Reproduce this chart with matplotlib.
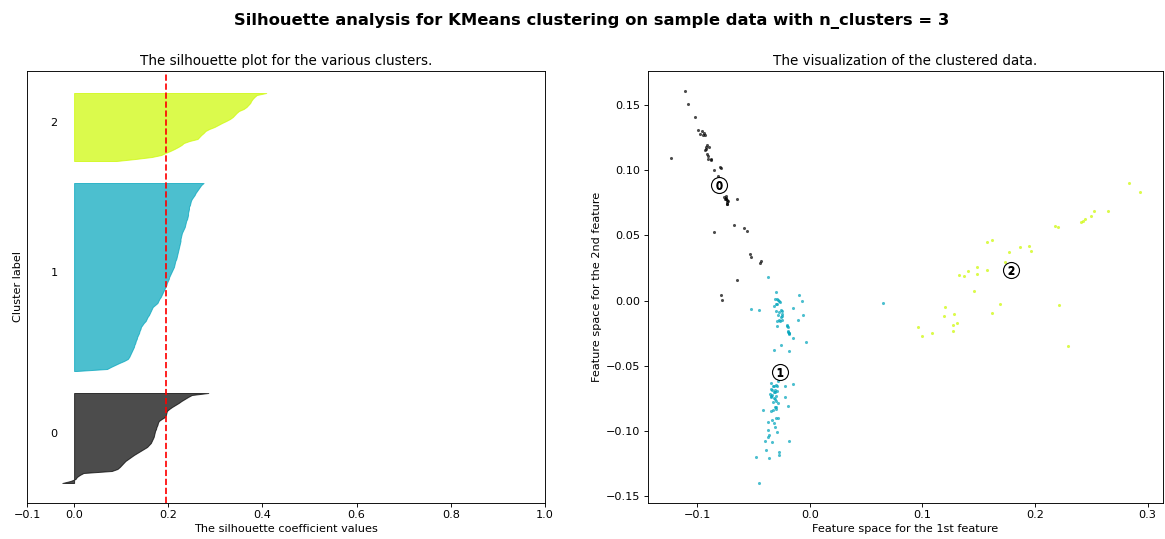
import numpy as np
import matplotlib
matplotlib.use("Agg")
import matplotlib.pyplot as plt
import matplotlib.cm as cm

n_clusters = 3

# silhouette values per cluster (sorted)
sil_0 = [-0.025, -0.008, 0.003, 0.006, 0.012, 0.02, 0.08, 0.092, 0.097, 0.101,
         0.105, 0.109, 0.115, 0.121, 0.127, 0.134, 0.141, 0.148, 0.155, 0.159,
         0.163, 0.165, 0.167, 0.169, 0.170, 0.171, 0.172, 0.174, 0.175, 0.177,
         0.178, 0.180, 0.186, 0.193, 0.195, 0.196, 0.197, 0.202, 0.208, 0.215,
         0.222, 0.228, 0.235, 0.242, 0.250, 0.285]
sil_1 = [0.005, 0.07, 0.078, 0.087, 0.096, 0.106, 0.114, 0.117, 0.119, 0.121,
         0.123, 0.125, 0.127, 0.128, 0.130, 0.131, 0.133, 0.134, 0.136, 0.138,
         0.139, 0.141, 0.142, 0.145, 0.148, 0.152, 0.154, 0.156, 0.159, 0.161,
         0.163, 0.165, 0.167, 0.172, 0.177, 0.179, 0.181, 0.184, 0.186, 0.188,
         0.190, 0.192, 0.194, 0.196, 0.197, 0.199, 0.201, 0.202, 0.204, 0.206,
         0.208, 0.210, 0.212, 0.213, 0.214, 0.215, 0.217, 0.218, 0.219, 0.220,
         0.221, 0.222, 0.223, 0.224, 0.225, 0.226, 0.226, 0.227, 0.228, 0.229,
         0.231, 0.233, 0.235, 0.236, 0.237, 0.238, 0.240, 0.241, 0.242, 0.242,
         0.243, 0.244, 0.244, 0.246, 0.247, 0.248, 0.250, 0.253, 0.256, 0.258,
         0.261, 0.264, 0.267, 0.270, 0.275]
sil_2 = [0.09, 0.13, 0.165, 0.185, 0.194, 0.204, 0.213, 0.221, 0.228, 0.233,
         0.245, 0.262, 0.266, 0.270, 0.275, 0.279, 0.287, 0.298, 0.306, 0.314,
         0.323, 0.331, 0.337, 0.341, 0.345, 0.350, 0.360, 0.366, 0.370, 0.374,
         0.376, 0.379, 0.383, 0.388, 0.408]
silhouette_avg = 0.195

# 2D feature space points per cluster
c0_x = [-0.1109, -0.1077, -0.1020, -0.0988, -0.0973, -0.0938, -0.0932, -0.1228,
        -0.0923, -0.0894, -0.0929, -0.0909, -0.0903, -0.0873, -0.0850, -0.0796,
        -0.0790, -0.0812, -0.0761, -0.0746, -0.0741, -0.0732, -0.0732, -0.0649,
        -0.0673, -0.0584, -0.0555, -0.0852, -0.0531, -0.0522, -0.0445, -0.0431,
        -0.0649, -0.0785, -0.0779, -0.0955, -0.0915, -0.0900, -0.0880, -0.0745,
        -0.0738, -0.0728, -0.0755, -0.0925, -0.0945, -0.0735]
c0_y = [0.1613, 0.1513, 0.1413, 0.1308, 0.1282, 0.1287, 0.1272, 0.1092,
        0.1179, 0.1179, 0.1154, 0.1128, 0.1085, 0.1077, 0.1005, 0.1025,
        0.1018, 0.0954, 0.0795, 0.0800, 0.0782, 0.0756, 0.0738, 0.0779,
        0.0582, 0.0559, 0.0531, 0.0528, 0.0359, 0.0333, 0.0287, 0.0300,
        0.0159, 0.0044, 0.0002, 0.1300, 0.1195, 0.1110, 0.1090, 0.0790,
        0.0770, 0.0765, 0.0780, 0.1165, 0.1275, 0.0745]

c1_x = [-0.0372, -0.0301, -0.0097, -0.0065, -0.0312, -0.0283, -0.0265, -0.0289,
        -0.0321, -0.0522, -0.0454, -0.0150, -0.0298, -0.0259, -0.0056, -0.0283,
        -0.0250, -0.0242, -0.0104, -0.0289, -0.0277, -0.0245, -0.0292, -0.0206,
        -0.0195, -0.0197, -0.0188, -0.0180, -0.0144, -0.0035, -0.0254, -0.0321,
        -0.0188, 0.0655, -0.0290, -0.0275, -0.0270, -0.0255, -0.0262, -0.0190,
        -0.0185, -0.0300, -0.0248, -0.0200,
        -0.0342, -0.0298, -0.0281, -0.0221, -0.0150, -0.0348, -0.0312, -0.0289,
        -0.0354, -0.0334, -0.0215, -0.0342, -0.0319, -0.0295, -0.0325, -0.0419,
        -0.0348, -0.0312, -0.0295, -0.0197, -0.0327, -0.0298, -0.0281, -0.0336,
        -0.0319, -0.0369, -0.0310, -0.0369, -0.0289, -0.0360, -0.0369, -0.0186,
        -0.0398, -0.0334, -0.0274, -0.0272, -0.0389, -0.0475, -0.0360, -0.0449,
        -0.0330, -0.0320, -0.0305, -0.0340, -0.0300, -0.0310, -0.0285, -0.0300,
        -0.0320, -0.0290, -0.0335]
c1_y = [0.0182, 0.0064, 0.0046, 0.0000, 0.0010, 0.0005, -0.0010, -0.0025,
        -0.0041, -0.0067, -0.0072, -0.0056, -0.0077, -0.0072, -0.0108, -0.0113,
        -0.0102, -0.0118, -0.0146, -0.0154, -0.0148, -0.0148, -0.0195, -0.0187,
        -0.0202, -0.0241, -0.0248, -0.0256, -0.0287, -0.0315, -0.0344, -0.0379,
        -0.0387, -0.0021, 0.0015, -0.0005, -0.0090, -0.0125, -0.0160, -0.0235,
        -0.0252, -0.0030, -0.0080, -0.0195,
        -0.0636, -0.0646, -0.0621, -0.0659, -0.0644, -0.0679, -0.0687, -0.0692,
        -0.0718, -0.0725, -0.0738, -0.0744, -0.0748, -0.0769, -0.0782, -0.0841,
        -0.0852, -0.0815, -0.0815, -0.0813, -0.0841, -0.0902, -0.0902, -0.0918,
        -0.0941, -0.0936, -0.0969, -0.0995, -0.1013, -0.1031, -0.1046, -0.1077,
        -0.1082, -0.1085, -0.1167, -0.1185, -0.1148, -0.1200, -0.1213, -0.1405,
        -0.0660, -0.0700, -0.0705, -0.0730, -0.0735, -0.0760, -0.0790, -0.0830,
        -0.0655, -0.0660, -0.0690]

c2_x = [0.2832, 0.2929, 0.2646, 0.2522, 0.2496, 0.2440, 0.2427, 0.2410,
        0.2180, 0.2204, 0.1622, 0.1573, 0.1947, 0.1870, 0.1962, 0.1773,
        0.1735, 0.1489, 0.1401, 0.1573, 0.1489, 0.1325, 0.1369, 0.1458,
        0.1693, 0.2210, 0.1204, 0.1283, 0.1195, 0.1622, 0.1307, 0.1272,
        0.1272, 0.0958, 0.1088, 0.0994, 0.2292]
c2_y = [0.0905, 0.0833, 0.0687, 0.0690, 0.0652, 0.0628, 0.0615, 0.0602,
        0.0575, 0.0562, 0.0467, 0.0446, 0.0421, 0.0410, 0.0382, 0.0375,
        0.0298, 0.0256, 0.0228, 0.0231, 0.0205, 0.0198, 0.0185, 0.0077,
        -0.0023, -0.0036, -0.0046, -0.0100, -0.0118, -0.0098, -0.0172, -0.0190,
        -0.0231, -0.0202, -0.0252, -0.0275, -0.0346]

centers_x = [-0.0805, -0.0265, 0.1788]
centers_y = [0.0885, -0.0546, 0.0231]

sil_values = [sil_0, sil_1, sil_2]
pts_x = [c0_x, c1_x, c2_x]
pts_y = [c0_y, c1_y, c2_y]
n_samples = sum(len(s) for s in sil_values)

# the reference looks like it was rendered about 1.13x larger than 72 dpi
k = 1.13
plt.rcParams['xtick.major.size'] = 3.5 * k
plt.rcParams['xtick.major.width'] = 0.8 * k
plt.rcParams['ytick.major.size'] = 3.5 * k
plt.rcParams['ytick.major.width'] = 0.8 * k
plt.rcParams['axes.linewidth'] = 0.8 * k

fig = plt.figure(figsize=(1165 / 72, 539 / 72), dpi=72)
ax1 = fig.add_axes([27 / 1165, 36 / 539, 518 / 1165, 432 / 539])
ax2 = fig.add_axes([648 / 1165, 36 / 539, 515 / 1165, 432 / 539])

# silhouette plot
ax1.set_xlim([-0.1, 1])
ax1.set_ylim([0, n_samples + (n_clusters + 1) * 10])
y_lower = 10
for i in range(n_clusters):
    vals = np.sort(np.array(sil_values[i]))
    size = len(vals)
    y_upper = y_lower + size
    color = cm.nipy_spectral(float(i) / n_clusters)
    ax1.fill_betweenx(np.arange(y_lower, y_upper), 0, vals,
                      facecolor=color, edgecolor=color, alpha=0.7)
    ax1.text(-0.05, y_lower + 0.5 * size, str(i), fontsize=10 * k)
    y_lower = y_upper + 10

ax1.set_title("The silhouette plot for the various clusters.", fontsize=12 * k)
ax1.set_xlabel("The silhouette coefficient values", fontsize=10 * k)
ax1.set_ylabel("Cluster label", fontsize=10 * k)
ax1.axvline(x=silhouette_avg, color="red", linestyle="--", lw=1.5 * k)
ax1.set_yticks([])
ax1.set_xticks([-0.1, 0, 0.2, 0.4, 0.6, 0.8, 1])
ax1.tick_params(labelsize=10 * k)

# clustered data
for i in range(n_clusters):
    color = cm.nipy_spectral(float(i) / n_clusters)
    ax2.scatter(pts_x[i], pts_y[i], marker='.', s=30 * k * k, lw=0, alpha=0.7,
                color=color, edgecolor='k')

ax2.scatter(centers_x, centers_y, marker='o', c="white", alpha=1,
            s=200 * k * k, edgecolor='k', linewidths=k)
for i in range(n_clusters):
    ax2.scatter(centers_x[i], centers_y[i], marker='$%d$' % i, alpha=1,
                s=50 * k * k, edgecolor='k', color='k')

ax2.set_title("The visualization of the clustered data.", fontsize=12 * k)
ax2.set_xlabel("Feature space for the 1st feature", fontsize=10 * k)
ax2.set_ylabel("Feature space for the 2nd feature", fontsize=10 * k)
ax2.tick_params(labelsize=10 * k)

fig.suptitle("Silhouette analysis for KMeans clustering on sample data "
             "with n_clusters = %d" % n_clusters,
             fontsize=16.4, fontweight='bold', x=0.508, y=0.975)

fig.savefig("out.png", dpi=72)
